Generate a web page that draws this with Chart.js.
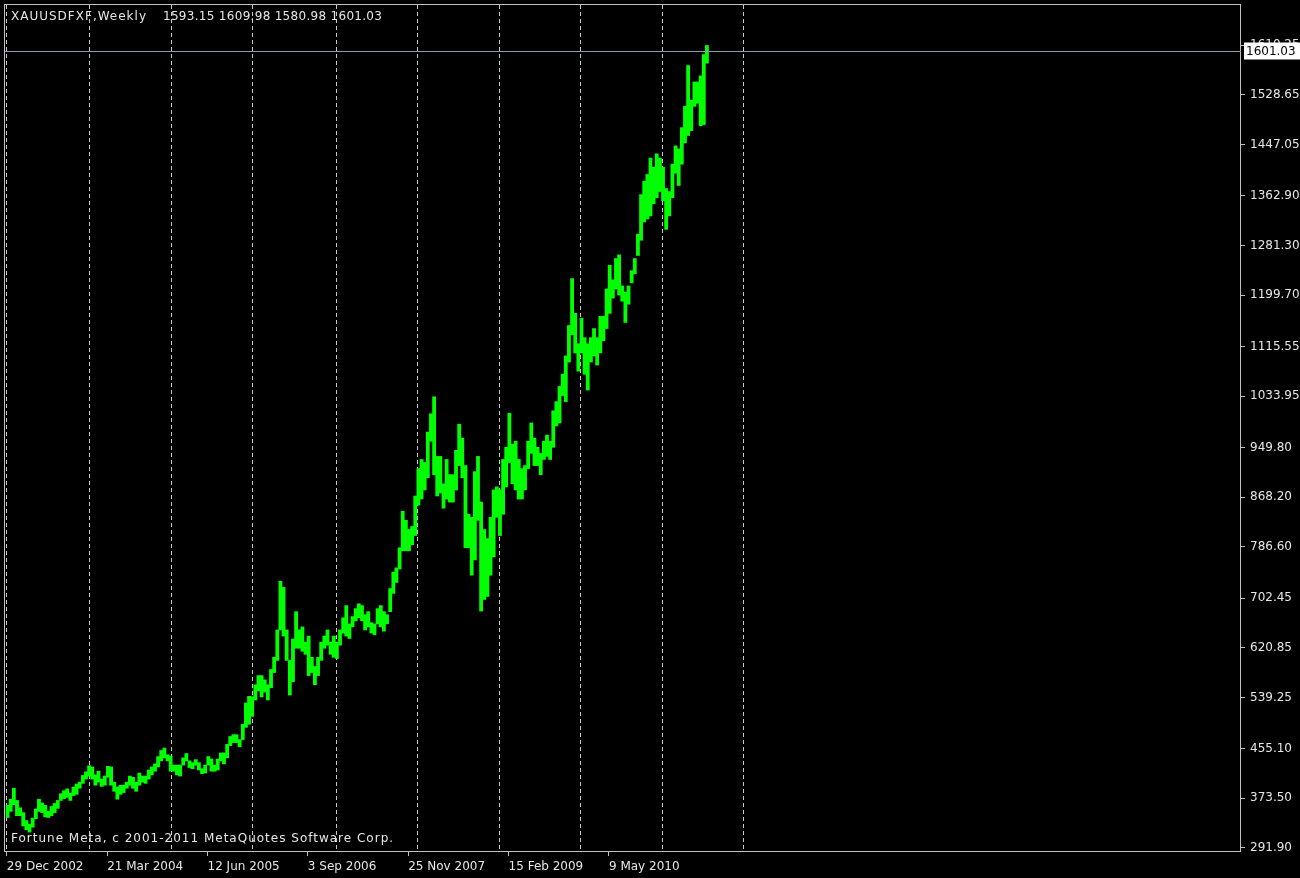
<!DOCTYPE html>
<html>
<head>
<meta charset="utf-8">
<title>XAUUSDFXF,Weekly</title>
<script src="https://cdn.jsdelivr.net/npm/chart.js@4.4.1/dist/chart.umd.min.js"></script>
<style>
    html, body { margin: 0; padding: 0; background: #000; overflow: hidden; }
    canvas { display: block; }
</style>
</head>
<body>
<canvas id="goldChart" width="1300" height="878"></canvas>
<script>
/* ==========================================================================
   DATA (one bar per two weeks from 29 Dec 2002)
   ========================================================================== */
const symbolText = 'XAUUSDFXF,Weekly';
const quoteText = '1593.15 1609.98 1580.98 1601.03';
const footerText = 'Fortune Meta, c 2001-2011 MetaQuotes Software Corp.';
const lastClose = 1601.03;

// bottom axis: week number -> label
const labelWeeks = [0, 64, 128, 192, 256, 320, 384];
const dateLabels = ['29 Dec 2002', '21 Mar 2004', '12 Jun 2005', '3 Sep 2006', '25 Nov 2007', '15 Feb 2009', '9 May 2010'];

// dotted separators at the first bar of each year
const yearWeeks = [0, 53, 105, 157, 210, 262, 314, 366, 418, 470];

// price scale labels
const priceTicks = [291.90, 373.50, 455.10, 539.25, 620.85, 702.45, 786.60, 868.20, 949.80,
    1033.95, 1115.55, 1199.70, 1281.30, 1362.90, 1447.05, 1528.65, 1610.25];

// lows / highs, two weeks per value
const lows = [
    // 2003
    342, 352, 363, 345, 345, 328, 322, 318, 326, 340, 352, 350, 343, 342, 345, 350, 357, 370, 373, 375, 370, 378, 380, 390, 398, 405,
    // 2004
    410, 405, 395, 400, 393, 395, 408, 395, 385, 372, 380, 383, 390, 395, 390, 385, 395, 400, 398, 405, 412, 418, 425, 435, 440, 435,
    // 2005
    418, 418, 412, 410, 428, 435, 424, 422, 428, 420, 414, 415, 428, 418, 418, 420, 435, 430, 440, 460, 465, 465, 458, 470, 490, 495,
    // 2006
    508, 535, 550, 540, 548, 535, 555, 580, 600, 650, 640, 600, 543, 565, 620, 620, 615, 610, 575, 580, 560, 575, 600, 620, 625, 610,
    // 2007
    605, 603, 625, 645, 640, 636, 655, 665, 670, 665, 650, 655, 645, 642, 660, 655, 648, 660, 680, 710, 728, 750, 780, 780, 780, 790,
    // 2008
    805, 855, 865, 880, 900, 960, 905, 870, 875, 850, 865, 860, 860, 880, 920, 900, 785, 785, 740, 765, 830, 681, 700, 705, 740, 770,
    // 2009
    835, 805, 840, 885, 925, 890, 880, 865, 865, 880, 915, 940, 920, 920, 905, 930, 935, 930, 950, 985, 990, 1035, 1025, 1090, 1135, 1105,
    // 2010
    1075, 1105, 1070, 1044, 1090, 1100, 1085, 1105, 1125, 1145, 1170, 1195, 1210, 1200, 1190, 1155, 1185, 1220, 1235, 1265, 1290, 1320, 1325, 1330, 1350, 1360,
    // 2011
    1370, 1355, 1308, 1330, 1360, 1400, 1380, 1415, 1450, 1462, 1470, 1510, 1515, 1478, 1480, 1580.98
];
const highs = [
    // 2003
    362, 372, 390, 370, 358, 350, 337, 331, 341, 356, 372, 366, 362, 352, 360, 365, 370, 381, 386, 389, 382, 392, 397, 400, 411, 417,
    // 2004
    427, 425, 412, 418, 405, 410, 426, 425, 400, 392, 395, 395, 400, 410, 408, 400, 415, 410, 410, 420, 425, 430, 442, 452, 456, 445,
    // 2005
    443, 428, 428, 428, 440, 447, 435, 432, 437, 432, 422, 428, 442, 438, 428, 438, 448, 448, 462, 475, 478, 478, 470, 495, 530, 541,
    // 2006
    540, 560, 575, 575, 568, 560, 585, 605, 650, 730, 720, 650, 600, 635, 680, 650, 655, 630, 640, 605, 590, 605, 630, 640, 650, 630,
    // 2007
    640, 630, 650, 670, 690, 660, 672, 685, 693, 690, 675, 680, 662, 660, 685, 690, 680, 675, 718, 745, 752, 785, 845, 830, 815, 820,
    // 2008
    870, 915, 930, 925, 975, 1005, 1033, 935, 935, 890, 930, 905, 905, 945, 988, 965, 920, 840, 835, 910, 935, 860, 815, 800, 835, 880,
    // 2009
    885, 880, 930, 950, 1006, 955, 960, 930, 915, 920, 960, 990, 965, 950, 940, 960, 970, 960, 1010, 1025, 1050, 1070, 1100, 1150, 1227, 1170,
    // 2010
    1120, 1162, 1130, 1120, 1130, 1145, 1130, 1165, 1165, 1210, 1249, 1225, 1260, 1266, 1215, 1205, 1215, 1240, 1260, 1300, 1365, 1387, 1398, 1425, 1410, 1432,
    // 2011
    1425, 1410, 1375, 1370, 1415, 1445, 1440, 1475, 1510, 1577, 1520, 1550, 1550, 1560, 1595, 1609.98
];

/* ==========================================================================
   SCALE RANGES (plot spans 5..1241 px wide, 5..852 px high)
   ========================================================================== */
const xMin = -1.15, xMax = 787.1;   // in weeks
const yMin = 285.3, yMax = 1676.4;  // in USD

const textColor = '#e6e6e6';
const frameColor = '#c0c0c0';
const fontFamily = '"DejaVu Sans", Tahoma, sans-serif';

// Two-week bars sit in the middle of their pair of weeks
const bars = lows.map((lo, i) => ({ x: i * 2 + 0.5, y: [lo, highs[i]] }));

/* ==========================================================================
   TERMINAL DECORATIONS (background, frame, captions, price line)
   ========================================================================== */
const terminalPlugin = {
    id: 'terminal',
    beforeDraw(chart) {
        const ctx = chart.ctx;
        ctx.save();
        ctx.fillStyle = '#000000';
        ctx.fillRect(0, 0, chart.width, chart.height);
        ctx.restore();
    },
    afterDraw(chart) {
        const ctx = chart.ctx;
        const area = chart.chartArea;
        const yScale = chart.scales.y;

        ctx.save();
        // frame
        ctx.strokeStyle = frameColor;
        ctx.lineWidth = 1;
        ctx.strokeRect(area.left - 0.5, area.top - 0.5, area.right - area.left, area.bottom - area.top);

        // current price line
        const py = Math.round(yScale.getPixelForValue(lastClose)) + 0.5;
        ctx.strokeStyle = '#8c9cb0';
        ctx.beginPath();
        ctx.moveTo(area.left, py);
        ctx.lineTo(area.right, py);
        ctx.stroke();

        // price box on the scale
        ctx.fillStyle = '#ffffff';
        ctx.fillRect(area.right + 3, py - 9, chart.width - area.right - 3, 17);
        ctx.fillStyle = '#000000';
        ctx.font = '12px ' + fontFamily;
        ctx.textBaseline = 'middle';
        ctx.textAlign = 'left';
        ctx.fillText(lastClose.toFixed(2), area.right + 5, py);

        // captions
        ctx.fillStyle = textColor;
        ctx.letterSpacing = '1px';
        ctx.fillText(symbolText, 11, 17);
        ctx.fillText(footerText, 11, 839);
        ctx.letterSpacing = '0.3px';
        ctx.fillText(quoteText, 163, 17);
        ctx.restore();
    }
};

/* ==========================================================================
   CHART
   ========================================================================== */
new Chart(document.getElementById('goldChart'), {
    type: 'bar',
    data: {
        datasets: [{
            data: bars,
            backgroundColor: '#00ff00',
            borderWidth: 0,
            barPercentage: 1,
            categoryPercentage: 1
        }]
    },
    options: {
        responsive: false,
        animation: false,
        layout: { padding: { left: 5, top: 5, right: 0, bottom: 0 } },
        plugins: {
            legend: { display: false },
            tooltip: { enabled: false }
        },
        scales: {
            x: {
                type: 'linear',
                position: 'bottom',
                min: xMin,
                max: xMax,
                offset: false,
                afterBuildTicks: scale => { scale.ticks = labelWeeks.map(v => ({ value: v })); },
                afterFit: scale => { scale.height = 26; scale.paddingLeft = 0; scale.paddingRight = 0; },
                ticks: {
                    align: 'start',
                    autoSkip: false,
                    maxRotation: 0,
                    padding: 4,
                    color: textColor,
                    font: { family: fontFamily, size: 12 },
                    callback: value => dateLabels[labelWeeks.indexOf(value)]
                },
                grid: { offset: false, drawOnChartArea: false, tickLength: 4, color: frameColor },
                border: { display: false }
            },
            x2: {
                type: 'linear',
                position: 'bottom',
                min: xMin,
                max: xMax,
                offset: false,
                afterBuildTicks: scale => { scale.ticks = yearWeeks.map(v => ({ value: v })); },
                afterFit: scale => { scale.height = 0; scale.paddingLeft = 0; scale.paddingRight = 0; },
                ticks: { display: false },
                grid: { offset: false, drawTicks: false, color: '#c8c8c8', lineWidth: 1 },
                border: { display: false, dash: [4, 3] }
            },
            y: {
                position: 'right',
                min: yMin,
                max: yMax,
                afterBuildTicks: scale => { scale.ticks = priceTicks.map(v => ({ value: v })); },
                afterFit: scale => { scale.width = 59; scale.paddingTop = 0; scale.paddingBottom = 0; },
                ticks: {
                    autoSkip: false,
                    padding: 5,
                    color: textColor,
                    font: { family: fontFamily, size: 12 },
                    callback: value => value.toFixed(2)
                },
                grid: { drawOnChartArea: false, tickLength: 4, color: frameColor },
                border: { display: false }
            }
        }
    },
    plugins: [terminalPlugin]
});
</script>
</body>
</html>
